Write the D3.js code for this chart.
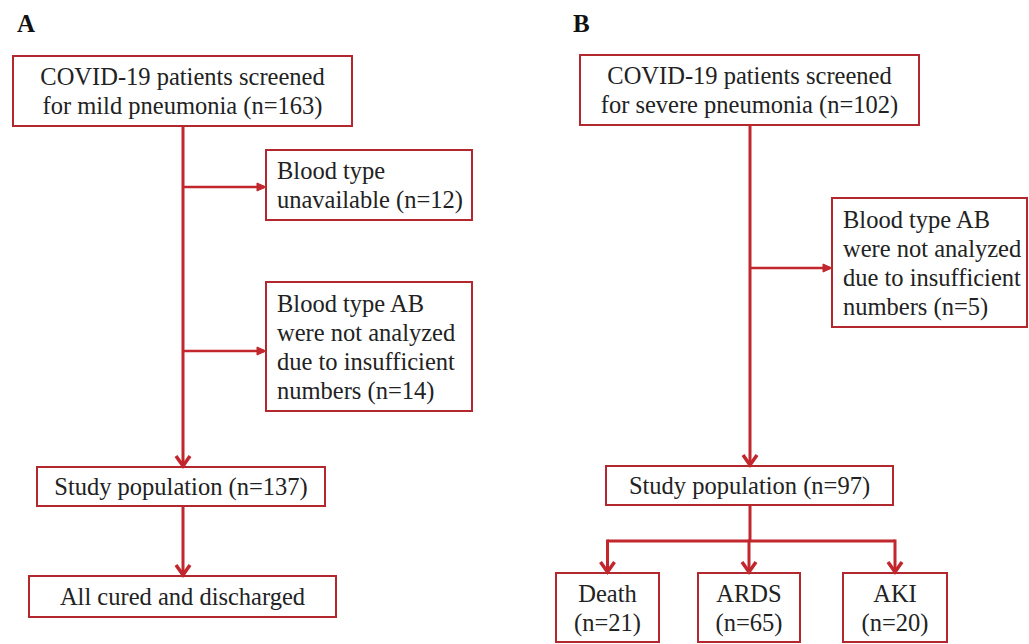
<!DOCTYPE html>
<html lang="en">
<head>
<meta charset="utf-8">
<title>Flow of patients</title>
<script src="https://d3js.org/d3.v7.min.js"></script>
<style>
  body { margin: 0; background: #fff; }
  .box-text { font-family: "Liberation Serif", "Times New Roman", serif; font-size: 24.5px; fill: #222; }
  .panel-label { font-family: "Liberation Serif", "Times New Roman", serif; font-size: 25px; font-weight: bold; fill: #111; }
</style>
</head>
<body>
<script>
// Data: box texts and counts
const panelLabels = ["A", "B"];

const mildLines = [
  ["COVID-19 patients screened", "for mild pneumonia (n={n})"],
  ["Blood type", "unavailable (n={n})"],
  ["Blood type AB", "were not analyzed", "due to insufficient", "numbers (n={n})"],
  ["Study population (n={n})"],
  ["All cured and discharged"]
];
const mildCounts = [163, 12, 14, 137, null];

const severeLines = [
  ["COVID-19 patients screened", "for severe pneumonia (n={n})"],
  ["Blood type AB", "were not analyzed", "due to insufficient", "numbers (n={n})"],
  ["Study population (n={n})"],
  ["Death", "(n={n})"],
  ["ARDS", "(n={n})"],
  ["AKI", "(n={n})"]
];
const severeCounts = [102, 5, 97, 21, 65, 20];

// Layout (pixels): [x0, y0, x1, y1, align]
const mildLayout = [
  [13, 56, 352, 126, "middle"],
  [266, 150, 472, 220, "start"],
  [266, 282, 472, 411, "start"],
  [37, 467, 325, 506, "middle"],
  [29, 576, 336, 617, "middle"]
];
const severeLayout = [
  [580, 55, 919, 125, "middle"],
  [832, 198, 1027, 327, "start"],
  [606, 466, 893, 505, "middle"],
  [556, 573, 659, 642, "middle"],
  [698, 573, 800, 642, "middle"],
  [843, 573, 947, 642, "middle"]
];
const labelPos = [[17, 32], [573, 32]];

const W = 1029, H = 644;
const boxColor = "#b3282e", lineColor = "#c1272d";
const lh = 29;

const svg = d3.select("body").append("svg").attr("width", W).attr("height", H);

svg.selectAll("text.panel-label")
  .data(panelLabels)
  .join("text")
  .attr("class", "panel-label")
  .attr("x", (d, i) => labelPos[i][0])
  .attr("y", (d, i) => labelPos[i][1])
  .text(d => d);

function drawBoxes(lines, counts, layout) {
  const nodes = lines.map((l, i) => ({
    lines: l.map(s => s.replace("{n}", counts[i])),
    x0: layout[i][0], y0: layout[i][1], x1: layout[i][2], y1: layout[i][3], align: layout[i][4]
  }));
  const g = svg.append("g").selectAll("g").data(nodes).join("g");
  g.append("rect")
    .attr("x", d => d.x0).attr("y", d => d.y0)
    .attr("width", d => d.x1 - d.x0).attr("height", d => d.y1 - d.y0)
    .attr("fill", "#fff").attr("stroke", boxColor).attr("stroke-width", 2);
  g.each(function(d) {
    const cy = (d.y0 + d.y1) / 2;
    const n = d.lines.length;
    d3.select(this).selectAll("text")
      .data(d.lines)
      .join("text")
      .attr("class", "box-text")
      .attr("text-anchor", d.align)
      .attr("x", d.align === "middle" ? (d.x0 + d.x1) / 2 : d.x0 + 11)
      .attr("y", (t, i) => cy + (i - (n - 1) / 2) * lh + 8.5)
      .text(t => t);
  });
  return nodes;
}

const mild = drawBoxes(mildLines, mildCounts, mildLayout);
const severe = drawBoxes(severeLines, severeCounts, severeLayout);

const conn = svg.append("g").attr("stroke", lineColor).attr("fill", "none").attr("stroke-width", 3);

function vline(x, y0, y1) {
  conn.append("line").attr("x1", x).attr("x2", x).attr("y1", y0).attr("y2", y1);
}
function hline(y, x0, x1, w) {
  conn.append("line").attr("x1", x0).attr("x2", x1).attr("y1", y).attr("y2", y).attr("stroke-width", w || 3);
}
function downArrow(x, y) {
  conn.append("path").attr("d", `M${x - 7},${y - 11}L${x},${y - 1}L${x + 7},${y - 11}`)
    .attr("stroke-width", 3.5).attr("stroke-linejoin", "miter");
}
function rightArrow(x, y) {
  conn.append("path").attr("d", `M${x - 9},${y - 4}L${x},${y}L${x - 9},${y + 4}Z`)
    .attr("fill", lineColor).attr("stroke-width", 1);
}
const mid = n => (n.x0 + n.x1) / 2;

// Panel A connectors
const ax = 183;
vline(ax, mild[0].y1, mild[3].y0 - 1);
downArrow(ax, mild[3].y0);
[187, 351].forEach((y, i) => { hline(y, ax, mild[i + 1].x0 - 2, 2.5); rightArrow(mild[i + 1].x0, y); });
vline(ax, mild[3].y1, mild[4].y0 - 1);
downArrow(ax, mild[4].y0);

// Panel B connectors
const bx = 750;
vline(bx, severe[0].y1, severe[2].y0 - 1);
downArrow(bx, severe[2].y0);
hline(268, bx, severe[1].x0 - 2, 2.5);
rightArrow(severe[1].x0, 268);
const barY = 541;
vline(bx, severe[2].y1, barY);
hline(barY, mid(severe[3]), mid(severe[5]));
severe.slice(3).forEach(n => {
  vline(mid(n), barY - 1.5, n.y0 - 1);
  downArrow(mid(n), n.y0);
});
</script>
</body>
</html>
